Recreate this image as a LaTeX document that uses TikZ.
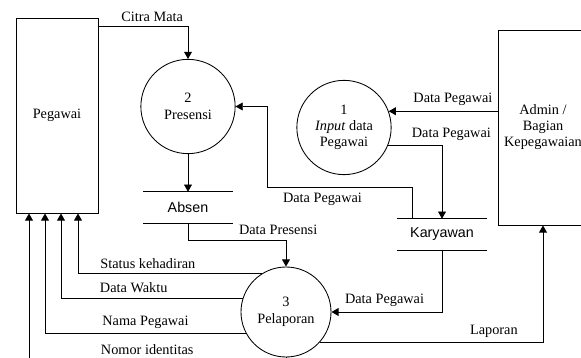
\documentclass[tikz,border=0pt]{standalone}
\usepackage{fontspec}
\setmainfont{Liberation Serif}
\newfontfamily\storefont{Liberation Sans}
\usetikzlibrary{arrows.meta,calc}

\begin{document}
\begin{tikzpicture}[x=0.7pt,y=-0.7pt,
    font=\fontsize{10}{12}\selectfont,
    flow/.style={-{Triangle[length=5pt,width=5.5pt]},line width=0.6pt},
    entity/.style={rectangle,draw,line width=0.6pt,minimum width=57.4pt,
        minimum height=136.5pt,inner sep=0pt,align=center},
    process/.style={circle,draw,line width=0.6pt,inner sep=0pt,align=center},
    store/.style={minimum width=62.5pt,minimum height=21.7pt,inner sep=0pt,
        font=\storefont\fontsize{10}{12}\selectfont}]
    \useasboundingbox (0,0) rectangle (581,358);
    \clip (0,0) rectangle (581,358);

    % entitas luar
    \node[entity] (peg) at (57,115.5) {Pegawai};
    \node[entity,minimum width=63pt,font=\fontsize{10}{11.2}\selectfont] (admin) at (543,127.5)
        {Admin /\\Bagian\\Kepegawaian};

    % proses
    \node[process,minimum size=66pt,font=\fontsize{10}{11.2}\selectfont] (p1) at (344,127.5)
        {1\\\textit{Input} data\\Pegawai};
    \node[process,minimum size=66pt] (p2) at (188,106.5) {2\\Presensi};
    \node[process,minimum size=63pt] (p3) at (286,312) {3\\Pelaporan};

    % data store
    \node[store] (absen) at (188,207.5) {Absen};
    \node[store] (kary) at (442,234.5) {Karyawan};
    \foreach \s in {absen,kary}
        \draw[line width=0.6pt] (\s.north west) -- (\s.north east)
            (\s.south west) -- (\s.south east);

    % aliran data
    \draw[flow] ([yshift=-6.3pt]peg.north east) -| node[pos=0.3,above]{Citra Mata} (p2);
    \draw[flow] (p2) -- (absen.north);
    \draw[flow] (absen.south) -- ++(0,17) -| node[pos=0.46,above]{Data Presensi} (p3);
    \draw[flow] ($(kary.north west)+(15,0)$) -- ++(0,-31)
        -| node[pos=0.31,below]{Data Pegawai} ($(p2.east)+(32,0)$) -- (p2.east);
    \draw[flow] (admin.west |- p1.20) -- node[pos=0.41,above]{Data Pegawai} (p1.20);
    \draw[flow] (p1.-22) -| node[pos=0,anchor=south west,xshift=13pt]{Data Pegawai} (kary.north);
    \draw[flow] (kary.south) |- node[pos=0.76,above]{Data Pegawai} (p3);
    \draw[flow] (p3.-42) -| node[pos=0.39,above]{Laporan} (admin.south);
    \draw[flow] (p3.122) -| node[pos=0.31,above]{Status kehadiran} ($(peg.south)+(21,0)$);
    \draw[flow] (p3.162) -| node[pos=0.30,above]{Data Waktu} ($(peg.south)+(4,0)$);
    \draw[flow] (p3.208) -| node[pos=0.25,above]{Nama Pegawai} ($(peg.south)+(-12,0)$);
    \draw[flow] (p3.south) -- ++(0,6)
        -| node[pos=0.27,above,yshift=2.5pt]{Nomor identitas} ($(peg.south)+(-28,0)$);
\end{tikzpicture}
\end{document}
